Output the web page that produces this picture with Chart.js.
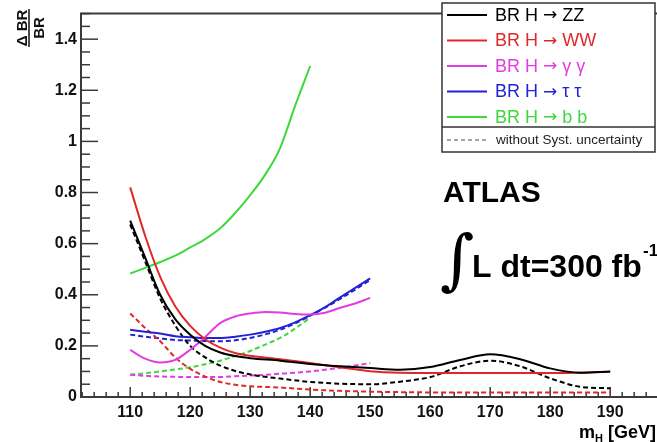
<!DOCTYPE html>
<html>
<head>
<meta charset="utf-8">
<script src="https://cdn.jsdelivr.net/npm/chart.js@4.4.1/dist/chart.umd.min.js"></script>
<style>
  html, body { margin: 0; padding: 0; background: #fff; overflow: hidden; }
  #wrap { width: 657px; height: 442px; }
</style>
</head>
<body>
<div id="wrap"><canvas id="c" width="657" height="442"></canvas></div>
<script>
// ---- data ----
const massZW  = [110,112.5,115,117.5,120,122.5,125,127.5,130,135,140,145,150,155,160,165,170,175,180,185,190];
const massLow = [110,112.5,115,117.5,120,122.5,125,127.5,130,132.5,135,137.5,140,142.5,145,147.5,150];
const massBB  = [110,112.5,115,117.5,120,122.5,125,127.5,130,132.5,135,137.5,140];

const zzSolid  = [0.69,0.545,0.40,0.305,0.244,0.20,0.174,0.16,0.152,0.142,0.129,0.12,0.113,0.107,0.117,0.145,0.167,0.148,0.112,0.095,0.10];
const zzDashed = [0.675,0.53,0.385,0.28,0.20,0.155,0.123,0.102,0.088,0.072,0.059,0.052,0.05,0.06,0.078,0.12,0.142,0.12,0.073,0.04,0.034];
const wwSolid  = [0.82,0.63,0.47,0.355,0.278,0.226,0.193,0.172,0.161,0.148,0.133,0.116,0.101,0.095,0.094,0.094,0.094,0.094,0.094,0.095,0.099];
const wwDashed = [0.327,0.27,0.218,0.155,0.11,0.08,0.059,0.048,0.042,0.037,0.029,0.024,0.021,0.019,0.018,0.018,0.018,0.018,0.018,0.018,0.018];
const ggSolid  = [0.184,0.15,0.135,0.145,0.185,0.235,0.289,0.315,0.327,0.333,0.331,0.325,0.323,0.33,0.349,0.366,0.388];
const ggDashed = [0.087,0.083,0.08,0.079,0.078,0.078,0.078,0.081,0.084,0.087,0.091,0.095,0.10,0.107,0.114,0.123,0.133];
const ttSolid  = [0.263,0.255,0.248,0.238,0.234,0.231,0.231,0.236,0.244,0.255,0.27,0.292,0.32,0.352,0.39,0.427,0.464];
const ttDashed = [0.244,0.236,0.229,0.223,0.221,0.219,0.218,0.222,0.231,0.245,0.263,0.288,0.318,0.35,0.384,0.42,0.458];
const bbSolid  = [0.483,0.505,0.528,0.553,0.585,0.618,0.66,0.72,0.79,0.87,0.975,1.14,1.295];
const bbDashed = [0.087,0.093,0.10,0.108,0.116,0.128,0.142,0.16,0.18,0.205,0.231,0.268,0.31];

const legendLabels = ['BR H \u2192 ZZ','BR H \u2192 WW','BR H \u2192 \u03b3 \u03b3','BR H \u2192 \u03c4 \u03c4','BR H \u2192 b b'];
const legendNote = 'without Syst. uncertainty';
const xTickValues = [110,120,130,140,150,160,170,180,190];
const yTickValues = [0,0.2,0.4,0.6,0.8,1,1.2,1.4];
const yTickLabels = ['0','0.2','0.4','0.6','0.8','1','1.2','1.4'];

// ---- styling ----
const COLORS = ['#000000','#e02828','#e33ce3','#2222d4','#3ed83e'];
const FONT = '"Liberation Sans", Arial, Helvetica, sans-serif';

function pts(xs, ys) { return xs.map((x, i) => ({x: x, y: ys[i]})); }
function ds(label, xs, ys, color, dashed) {
  return {
    label: label, data: pts(xs, ys), borderColor: color, backgroundColor: color,
    borderWidth: 2, pointRadius: 0, fill: false, cubicInterpolationMode: 'monotone',
    borderDash: dashed ? [5, 3] : []
  };
}

const datasets = [
  ds(legendLabels[0], massZW, zzSolid, COLORS[0], false),
  ds(legendLabels[1], massZW, wwSolid, COLORS[1], false),
  ds(legendLabels[2], massLow, ggSolid, COLORS[2], false),
  ds(legendLabels[3], massLow, ttSolid, COLORS[3], false),
  ds(legendLabels[4], massBB, bbSolid, COLORS[4], false),
  ds('ZZ no syst', massZW, zzDashed, COLORS[0], true),
  ds('WW no syst', massZW, wwDashed, COLORS[1], true),
  ds('gg no syst', massLow, ggDashed, COLORS[2], true),
  ds('tt no syst', massLow, ttDashed, COLORS[3], true),
  ds('bb no syst', massBB, bbDashed, COLORS[4], true)
];

const framePlugin = {
  id: 'frame',
  beforeDatasetsDraw(chart) {
    const {ctx, chartArea: a, scales: {x, y}} = chart;
    ctx.save();
    ctx.strokeStyle = '#3a3a3a';
    ctx.lineWidth = 1.5;
    for (let v = 102; v <= x.max; v += 2) {
      const px = x.getPixelForValue(v);
      const major = (v % 10 === 0);
      ctx.beginPath();
      ctx.moveTo(px, a.bottom);
      ctx.lineTo(px, a.bottom - (major ? 10 : 5));
      ctx.stroke();
    }
    for (let k = 1; k * 0.05 <= y.max + 1e-9; k++) {
      const v = k * 0.05;
      const py = y.getPixelForValue(v);
      const major = (k % 4 === 0);
      ctx.beginPath();
      ctx.moveTo(a.left, py);
      ctx.lineTo(a.left + (major ? 17 : 9), py);
      ctx.stroke();
    }
    ctx.lineWidth = 2;
    ctx.beginPath();
    ctx.moveTo(a.right + 2, a.top);
    ctx.lineTo(a.left, a.top);
    ctx.lineTo(a.left, a.bottom);
    ctx.lineTo(a.right + 2, a.bottom);
    ctx.stroke();
    ctx.restore();
  }
};

const textPlugin = {
  id: 'texts',
  afterDraw(chart) {
    const ctx = chart.ctx;
    ctx.save();
    // ---- legend ----
    const lx = 442, ly = 3, lw = 213, lh = 149;
    ctx.fillStyle = '#ffffff';
    ctx.fillRect(lx, ly, lw, lh);
    ctx.strokeStyle = '#333';
    ctx.lineWidth = 1.5;
    ctx.strokeRect(lx, ly, lw, lh);
    ctx.beginPath();
    ctx.moveTo(lx, 127); ctx.lineTo(lx + lw, 127);
    ctx.stroke();
    ctx.textBaseline = 'middle';
    ctx.textAlign = 'left';
    for (let i = 0; i < 5; i++) {
      const d = chart.data.datasets[i];
      const yy = 15 + i * 25.5;
      ctx.strokeStyle = d.borderColor;
      ctx.lineWidth = 2;
      ctx.setLineDash([]);
      ctx.beginPath(); ctx.moveTo(447, yy); ctx.lineTo(487, yy); ctx.stroke();
      ctx.fillStyle = d.borderColor;
      const parts = d.label.split('\u2192');
      let tx = 495;
      ctx.font = '18px ' + FONT;
      ctx.fillText(parts[0], tx, yy + 1);
      tx += ctx.measureText(parts[0]).width;
      ctx.font = '17px "DejaVu Sans", sans-serif';
      ctx.fillText('\u2192', tx, yy + 1);
      tx += ctx.measureText('\u2192').width;
      ctx.font = '18px ' + FONT;
      ctx.fillText(parts[1], tx, yy + 1);
    }
    ctx.strokeStyle = '#888';
    ctx.lineWidth = 1.5;
    ctx.setLineDash([4, 3]);
    ctx.beginPath(); ctx.moveTo(447, 140); ctx.lineTo(487, 140); ctx.stroke();
    ctx.setLineDash([]);
    ctx.fillStyle = '#222';
    ctx.font = '13.5px ' + FONT;
    ctx.fillText(legendNote, 496, 140);

    // ---- ATLAS label ----
    ctx.textBaseline = 'alphabetic';
    ctx.fillStyle = '#000';
    ctx.font = 'bold 30px ' + FONT;
    ctx.fillText('ATLAS', 443, 202);
    ctx.font = '66px "DejaVu Serif", serif';
    ctx.fillText('\u222b', 440, 282);
    ctx.font = 'bold 32px ' + FONT;
    ctx.fillText('L dt=300 fb', 472, 277);
    ctx.font = 'bold 17px ' + FONT;
    ctx.fillText('-1', 643, 256);

    // ---- x axis title m_H [GeV] ----
    ctx.textAlign = 'left';
    ctx.font = 'bold 18px ' + FONT;
    const mW = ctx.measureText('m').width;
    ctx.font = 'bold 11px ' + FONT;
    const hW = ctx.measureText('H').width;
    ctx.font = 'bold 18px ' + FONT;
    const gW = ctx.measureText(' [GeV]').width;
    const total = mW + hW + gW;
    const sx = 656 - total;
    ctx.fillText('m', sx, 438);
    ctx.font = 'bold 11px ' + FONT;
    ctx.fillText('H', sx + mW, 442);
    ctx.font = 'bold 18px ' + FONT;
    ctx.fillText(' [GeV]', sx + mW + hW, 438);

    // ---- y axis title: fraction (Delta BR / BR), rotated ----
    ctx.save();
    ctx.translate(29, 28);
    ctx.rotate(-Math.PI / 2);
    ctx.strokeStyle = '#111';
    ctx.lineWidth = 1.5;
    ctx.beginPath(); ctx.moveTo(-19, 0); ctx.lineTo(19, 0); ctx.stroke();
    ctx.textAlign = 'center';
    ctx.font = 'bold 15px ' + FONT;
    ctx.fillStyle = '#111';
    ctx.textBaseline = 'alphabetic';
    ctx.fillText('\u0394 BR', 0, -2);
    ctx.textBaseline = 'top';
    ctx.fillText('BR', 0, 3);
    ctx.restore();

    ctx.restore();
  }
};

new Chart(document.getElementById('c'), {
  type: 'line',
  data: { datasets: datasets },
  options: {
    responsive: false,
    animation: false,
    events: [],
    layout: { padding: { top: 5, right: 0, bottom: 0, left: 0 } },
    plugins: { legend: { display: false }, tooltip: { enabled: false } },
    scales: {
      x: {
        type: 'linear', min: 101.8, max: 197.8,
        grid: { display: false, drawTicks: false },
        border: { display: false },
        afterFit: (s) => { s.height = 45; },
        afterBuildTicks: (s) => { s.ticks = xTickValues.map(v => ({value: v})); },
        ticks: { padding: 6, color: '#111', maxRotation: 0, autoSkip: false,
                 font: { family: FONT, size: 16, weight: 'bold' },
                 callback: (v) => String(v) }
      },
      y: {
        type: 'linear', min: 0, max: 1.5,
        grid: { display: false, drawTicks: false },
        border: { display: false },
        afterFit: (s) => { s.width = 81; },
        afterBuildTicks: (s) => { s.ticks = yTickValues.map(v => ({value: v})); },
        ticks: { padding: 4, color: '#111', autoSkip: false,
                 font: { family: FONT, size: 16, weight: 'bold' },
                 callback: (v) => yTickLabels[yTickValues.indexOf(v)] }
      }
    }
  },
  plugins: [framePlugin, textPlugin]
});
</script>
</body>
</html>
